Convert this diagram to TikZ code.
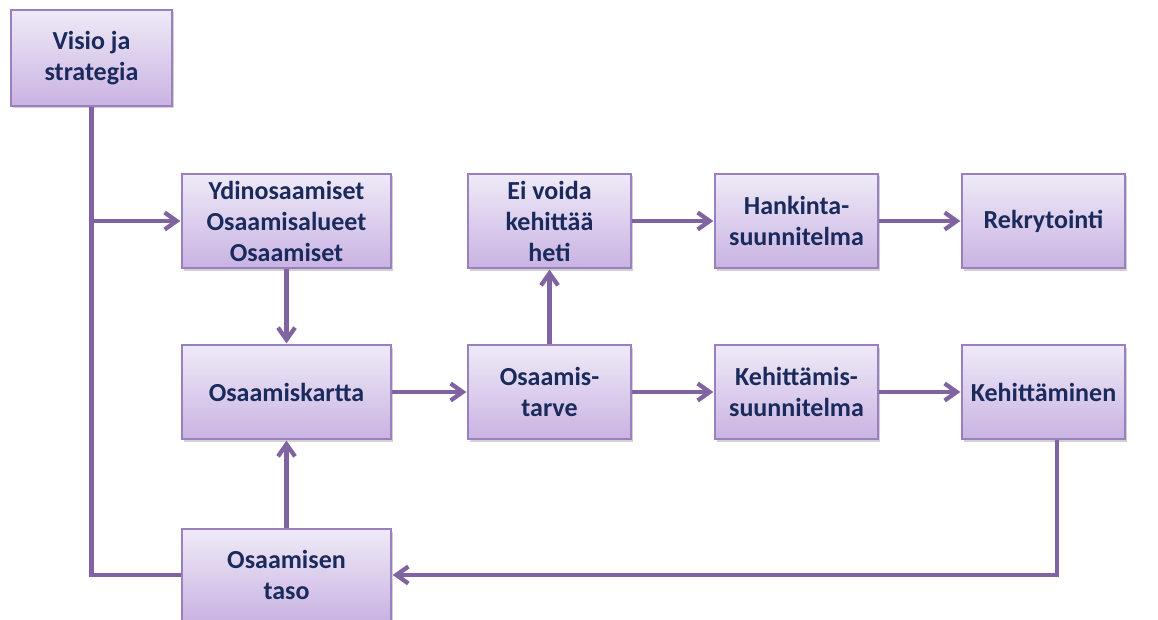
\documentclass[tikz,border=0pt]{standalone}
\usepackage{fontspec}
\setmainfont{Carlito}
\usetikzlibrary{arrows.meta,shadows}
\definecolor{linepurple}{HTML}{8064A2}
\definecolor{boxedge}{HTML}{9A80C0}
\definecolor{boxtop}{HTML}{EFEAF7}
\definecolor{boxbottom}{HTML}{C9B3E2}
\definecolor{labelnavy}{HTML}{1A2A5C}
\begin{document}
\begin{tikzpicture}[x=1pt,y=-1pt,
  box/.style={draw=boxedge, line width=1.3pt, top color=boxtop, bottom color=boxbottom,
    minimum width=163pt, minimum height=94pt, inner sep=2pt, align=center,
    text=labelnavy, font=\bfseries\fontsize{26}{31}\selectfont,
    drop shadow={shadow xshift=2pt, shadow yshift=-2.5pt, opacity=0.3, fill=black!60}},
  widebox/.style={box, minimum width=209pt},
  link/.style={draw=linepurple, line width=4.3pt},
  arrowlink/.style={link, -{Straight Barb[length=12pt,width=17pt,line width=4.3pt]}, shorten >=1pt}]
\useasboundingbox (0,0) rectangle (1158,620);

% boxes
\node[box, minimum width=161pt, minimum height=96pt] (visio) at (91.5,58) {Visio ja\\strategia};
\node[widebox] (ydin)  at (286.5,221) {Ydinosaamiset\\Osaamisalueet\\Osaamiset};
\node[box] (ei)    at (549.5,221) {Ei voida\\kehittää\\heti};
\node[box] (hank)  at (796.5,221) {Hankinta-\\suunnitelma};
\node[box] (rekry) at (1043.5,221) {Rekrytointi};
\node[widebox] (kartta) at (286.5,392) {Osaamiskartta};
\node[box] (tarve) at (549.5,392) {Osaamis-\\tarve};
\node[box] (kehs)  at (796.5,392) {Kehittämis-\\suunnitelma};
\node[box] (kehn)  at (1043.5,392) {Kehittäminen};
\node[widebox, minimum height=92pt] (taso) at (286.5,575) {Osaamisen\\taso};

% connectors
\coordinate (split) at (visio.south |- ydin.west);
\draw[link] (visio.south) |- (taso.west);
\draw[arrowlink] (split) -- (ydin.west);
\draw[arrowlink] (ydin.south) -- (kartta.north);
\draw[arrowlink] (taso.north) -- (kartta.south);
\draw[arrowlink] (kartta.east) -- (tarve.west);
\draw[arrowlink] (tarve.north) -- (ei.south);
\draw[arrowlink] (ei.east) -- (hank.west);
\draw[arrowlink] (hank.east) -- (rekry.west);
\draw[arrowlink] (tarve.east) -- (kehs.west);
\draw[arrowlink] (kehs.east) -- (kehn.west);
\draw[arrowlink] ([xshift=13.5pt]kehn.south) |- (taso.east);
\end{tikzpicture}
\end{document}
